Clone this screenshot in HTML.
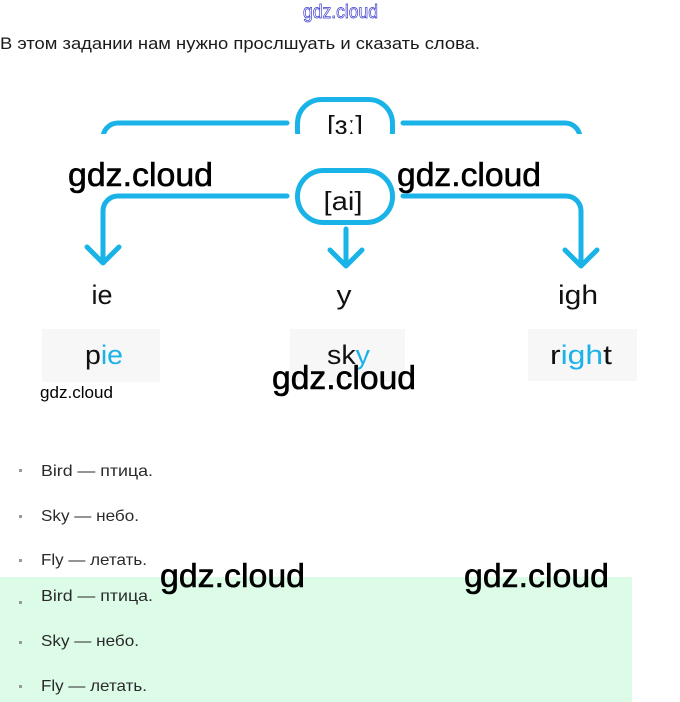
<!DOCTYPE html>
<html><head><meta charset="utf-8"><style>
html,body{margin:0;padding:0;background:#fff;width:680px;height:702px;overflow:hidden}
svg{display:block}
</style></head><body>
<svg width="680" height="702" viewBox="0 0 680 702" xmlns="http://www.w3.org/2000/svg">
<rect x="0" y="0" width="680" height="702" fill="#fff"/>
<!-- green block -->
<rect x="0" y="577" width="632" height="125" fill="#dcfce8"/>

<!-- top watermark outlined -->
<text x="303" y="18" font-family="Liberation Sans, sans-serif" font-size="19" fill="#fff" stroke="#3333cc" stroke-width="0.7" textLength="75" lengthAdjust="spacingAndGlyphs">gdz.cloud</text>

<!-- header -->
<text x="0" y="49" font-family="Liberation Sans, sans-serif" font-size="16.5" fill="#1a1a1a" textLength="480" lengthAdjust="spacingAndGlyphs">В этом задании нам нужно прослшуать и сказать слова.</text>

<g fill="none" stroke="#1ab3e8" stroke-width="5" stroke-linecap="round" stroke-linejoin="round">
  <!-- top row (cropped) -->
  <rect x="297.5" y="99.5" width="95" height="56" rx="24"/>
  <path d="M287 123 H118 A15 15 0 0 0 103 138"/>
  <path d="M403 123 H565 A15 15 0 0 1 580 138"/>
</g>
<text x="345" y="134" text-anchor="middle" font-family="Liberation Sans, sans-serif" font-size="26" fill="#111" textLength="36" lengthAdjust="spacingAndGlyphs">[ɜː]</text>
<!-- crop band -->
<rect x="0" y="134" width="680" height="32" fill="#fff"/>

<g fill="none" stroke="#1ab3e8" stroke-width="5" stroke-linecap="round" stroke-linejoin="round">
  <rect x="297.5" y="170.5" width="95" height="52" rx="26"/>
  <path d="M287 196 H118 A15 15 0 0 0 103 211 V262"/>
  <path d="M87 247 L103 263 L119 247"/>
  <path d="M403 196 H566 A15 15 0 0 1 581 211 V265"/>
  <path d="M565 250 L581 266 L597 250"/>
  <path d="M346 229 V265"/>
  <path d="M330 250 L346 266 L362 250"/>
</g>
<text x="343" y="210" text-anchor="middle" font-family="Liberation Sans, sans-serif" font-size="26" fill="#111" textLength="39" lengthAdjust="spacingAndGlyphs">[ai]</text>

<!-- labels -->
<g font-family="Liberation Sans, sans-serif" font-size="27" fill="#111" text-anchor="middle">
  <text x="102" y="304" textLength="21" lengthAdjust="spacingAndGlyphs">ie</text>
  <text x="344" y="304" textLength="15" lengthAdjust="spacingAndGlyphs">y</text>
  <text x="578" y="304" textLength="40" lengthAdjust="spacingAndGlyphs">igh</text>
</g>

<!-- word boxes -->
<rect x="42" y="329" width="118" height="53" fill="#f7f7f7"/>
<rect x="290" y="329" width="115" height="53" fill="#f7f7f7"/>
<rect x="528" y="329" width="109" height="52" fill="#f7f7f7"/>
<g font-family="Liberation Sans, sans-serif" font-size="27" fill="#111">
  <text x="85" y="364" textLength="38" lengthAdjust="spacingAndGlyphs">p<tspan fill="#1ab3e8">ie</tspan></text>
  <text x="327" y="364" textLength="43" lengthAdjust="spacingAndGlyphs">sk<tspan fill="#1ab3e8">y</tspan></text>
  <text x="550" y="364" textLength="62" lengthAdjust="spacingAndGlyphs">r<tspan fill="#1ab3e8">igh</tspan>t</text>
</g>

<!-- list -->
<g fill="#999">
  <rect x="19" y="469" width="3" height="3"/>
  <rect x="19" y="515" width="3" height="3"/>
  <rect x="19" y="559" width="3" height="3"/>
  <rect x="19" y="601" width="3" height="3"/>
  <rect x="19" y="641" width="3" height="3"/>
  <rect x="19" y="685" width="3" height="3"/>
</g>
<g font-family="Liberation Sans, sans-serif" font-size="16" fill="#2a2a2a">
  <text x="41" y="476" textLength="112" lengthAdjust="spacingAndGlyphs">Bird — птица.</text>
  <text x="41" y="521" textLength="98" lengthAdjust="spacingAndGlyphs">Sky — небо.</text>
  <text x="41" y="565" textLength="106" lengthAdjust="spacingAndGlyphs">Fly — летать.</text>
  <text x="41" y="601" textLength="112" lengthAdjust="spacingAndGlyphs">Bird — птица.</text>
  <text x="41" y="646" textLength="98" lengthAdjust="spacingAndGlyphs">Sky — небо.</text>
  <text x="41" y="691" textLength="106" lengthAdjust="spacingAndGlyphs">Fly — летать.</text>
</g>

<!-- watermarks -->
<g font-family="Liberation Sans, sans-serif" font-size="33" fill="#000" stroke="#000" stroke-width="0.6">
  <text x="68" y="186" textLength="145" lengthAdjust="spacingAndGlyphs">gdz.cloud</text>
  <text x="397" y="186" textLength="144" lengthAdjust="spacingAndGlyphs">gdz.cloud</text>
  <text x="272" y="389" textLength="144" lengthAdjust="spacingAndGlyphs">gdz.cloud</text>
  <text x="160" y="587" textLength="145" lengthAdjust="spacingAndGlyphs">gdz.cloud</text>
  <text x="464" y="587" textLength="145" lengthAdjust="spacingAndGlyphs">gdz.cloud</text>
</g>
<text x="40" y="398" font-family="Liberation Sans, sans-serif" font-size="17" fill="#000" textLength="73" lengthAdjust="spacingAndGlyphs">gdz.cloud</text>
</svg>
</body></html>
